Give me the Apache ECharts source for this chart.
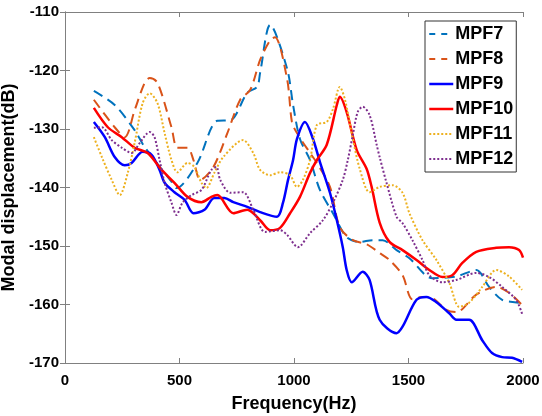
<!DOCTYPE html>
<html>
<head>
<meta charset="utf-8">
<script src="https://cdn.jsdelivr.net/npm/echarts@6/dist/echarts.min.js"></script>
<style>
  html, body { margin: 0; padding: 0; background: #fff; }
  #main { width: 542px; height: 416px; }
</style>
</head>
<body>
<div id="main"></div>
<script>
// values: [frequency Hz, displacement dB]
var xTicks = [0, 500, 1000, 1500, 2000];
var yTicks = [-170, -160, -150, -140, -130, -120, -110];
var names = ['MPF7', 'MPF8', 'MPF9', 'MPF10', 'MPF11', 'MPF12'];

var mpf7 = [[126,-123.5],[217,-125.9],[304,-130.2],[348,-133.1],[465,-139],[487,-140.1],[578,-135.8],[665,-128.6],[722,-128.5],[796,-123.8],[839,-122.8],[852,-120.4],[896,-112.2],[970,-119.7],[996,-125.9],[1026,-131.7],[1070,-135.3],[1113,-140.4],[1170,-144.4],[1230,-148.5],[1287,-149.3],[1343,-149],[1387,-149],[1448,-150.7],[1504,-152.1],[1604,-155.5],[1709,-155.2],[1796,-154.1],[1852,-157],[1909,-159.2],[1983,-159.7],[2000,-160]];
var mpf8 = [[126,-125],[217,-129.7],[261,-131.4],[304,-126.8],[348,-122.1],[370,-121.3],[404,-122.1],[465,-129.7],[491,-133.2],[535,-133.2],[561,-135.3],[591,-138.7],[648,-136.5],[709,-130.7],[765,-125],[809,-123.3],[852,-118.2],[896,-114.8],[917,-114.3],[970,-121.5],[991,-128.8],[1013,-130.7],[1070,-134.1],[1100,-135.8],[1157,-139.9],[1200,-146.8],[1257,-149],[1317,-149.7],[1374,-151.2],[1417,-152.4],[1474,-155],[1517,-159.1],[1561,-158.7],[1604,-158.9],[1665,-160.9],[1709,-161.3],[1796,-158.3],[1883,-157],[1939,-158],[1996,-160.1]];
var mpf9 = [[126,-128.8],[174,-131.4],[217,-134.8],[261,-136.2],[291,-135.8],[339,-133.9],[378,-134.4],[413,-137],[435,-139.2],[478,-140.8],[522,-142.1],[561,-144.4],[609,-143.8],[652,-141.8],[696,-141.8],[735,-142.5],[796,-143.3],[852,-144.2],[926,-145],[952,-142.6],[974,-138.7],[996,-135.3],[1013,-131.7],[1048,-128.8],[1083,-131.7],[1113,-135.6],[1157,-140.9],[1187,-145.6],[1213,-150.2],[1230,-154.1],[1252,-156.2],[1300,-154.4],[1330,-155.8],[1374,-162.6],[1448,-164.9],[1474,-163.8],[1535,-159.2],[1578,-158.7],[1622,-159.6],[1678,-161.5],[1709,-162.6],[1765,-162.6],[1822,-166.1],[1865,-168.3],[1909,-169],[1952,-169.1],[1996,-169.8]];
var mpf10 = [[126,-126.4],[187,-129.7],[248,-131.4],[304,-133.2],[361,-134.1],[422,-137],[478,-139.2],[535,-141.6],[596,-142.5],[639,-141.6],[665,-141.3],[735,-144.4],[796,-143.8],[852,-145.6],[896,-147.3],[939,-146.9],[983,-144.4],[1026,-141.6],[1070,-137.5],[1100,-135.3],[1143,-132.7],[1187,-125.9],[1200,-124.5],[1230,-127.1],[1274,-133.6],[1317,-136.8],[1339,-139.9],[1374,-146],[1417,-149.3],[1474,-150.7],[1535,-152.4],[1591,-154.1],[1648,-155.3],[1691,-155],[1735,-152.9],[1796,-151],[1883,-150.3],[1939,-150.2],[1983,-150.7],[2000,-152]];
var mpf11 = [[126,-131.4],[161,-134.8],[204,-138.7],[239,-141.3],[274,-137.5],[304,-132.4],[339,-125.6],[370,-123.9],[404,-125.6],[435,-130.7],[465,-135.3],[491,-137.4],[535,-135.8],[565,-136.5],[596,-139.2],[617,-140.1],[652,-137.5],[691,-134.8],[778,-131.9],[822,-134.1],[852,-137],[896,-137.9],[939,-137.4],[983,-137.9],[1013,-139.9],[1039,-138.7],[1070,-135.3],[1100,-129.3],[1143,-128.8],[1170,-126.6],[1200,-122.8],[1222,-124.9],[1257,-131.7],[1287,-136.8],[1330,-140.8],[1374,-139.9],[1430,-139.6],[1474,-140.9],[1504,-144.4],[1561,-149],[1622,-152.4],[1678,-156.3],[1722,-160.4],[1765,-159.7],[1822,-157],[1883,-154.1],[1939,-155.2],[1996,-157.5]];
var mpf12 = [[126,-129.8],[161,-129.7],[204,-131.9],[248,-133.2],[291,-134.1],[326,-132.4],[370,-130.5],[391,-131.4],[413,-135.3],[435,-139.2],[465,-142.6],[487,-144.7],[513,-142.6],[552,-141.3],[596,-140.4],[639,-137],[661,-136.5],[678,-138.7],[722,-140.9],[778,-140.8],[822,-143.8],[874,-147.6],[939,-147.3],[970,-148.1],[1017,-150.2],[1070,-147.8],[1126,-145.6],[1170,-142.6],[1213,-138.7],[1235,-135.3],[1257,-131],[1278,-127.1],[1300,-126.2],[1330,-127.6],[1361,-132.7],[1374,-134.8],[1404,-139.2],[1448,-145],[1474,-146.1],[1517,-149],[1561,-152.4],[1591,-155],[1648,-156.2],[1709,-155.8],[1796,-154.6],[1852,-155.3],[1909,-157],[1970,-159.2],[1996,-161.6]];

var seriesData = [mpf7, mpf8, mpf9, mpf10, mpf11, mpf12];
var colors = ['#0072BD', '#D95319', '#0000FF', '#FF0000', '#EDB120', '#7E2F8E'];
var dashes = [[10, 6], [10, 6], 'solid', 'solid', [2, 2], [2, 2]];
var legendDashes = [[6, 6], [6, 6], 'solid', 'solid', [2, 2], [2, 2]];
var widths = [2, 2, 2.5, 2.5, 2, 2];

var myChart = echarts.init(document.getElementById('main'), null, {renderer: 'canvas'});

var axisColor = '#808080';
var fontFam = 'Arial, Liberation Sans, sans-serif';
var labelFont = {color: '#000', fontWeight: 'bold', fontSize: 15, fontFamily: fontFam};

var series = names.map(function (n, i) {
    return {
        name: n,
        type: 'line',
        smooth: 0.3,
        symbol: 'none',
        data: seriesData[i],
        lineStyle: {color: colors[i], width: widths[i], type: dashes[i]},
        itemStyle: {color: colors[i]},
        z: 2 + i
    };
});

var legendData = names.map(function (n, i) {
    return {name: n, lineStyle: {type: legendDashes[i], width: widths[i], color: colors[i]}};
});

var option = {
    animation: false,
    grid: {left: 65, right: 19, top: 12, bottom: 53, show: false, outerBoundsMode: 'none', containLabel: false},
    legend: {
        orient: 'vertical',
        left: 425,
        top: 21,
        data: legendData,
        itemWidth: 24,
        itemHeight: 14,
        itemGap: 7,
        padding: [4, 3, 4, 3],
        backgroundColor: '#fff',
        borderColor: '#333',
        borderWidth: 1,
        itemStyle: {opacity: 0},
        textStyle: {color: '#000', fontWeight: 'bold', fontSize: 18, lineHeight: 18, fontFamily: fontFam, padding: [0, 0, 0, -3]}
    },
    xAxis: [{
        type: 'value', min: 0, max: 2000, interval: 500,
        name: 'Frequency(Hz)', nameLocation: 'middle', nameGap: 32,
        nameTextStyle: {color: '#000', fontWeight: 'bold', fontSize: 18, fontFamily: fontFam},
        axisLine: {show: true, lineStyle: {color: axisColor, width: 1}},
        axisTick: {show: true, inside: true, length: 5, lineStyle: {color: axisColor}},
        axisLabel: Object.assign({margin: 10, formatter: function (v) { return xTicks.indexOf(v) >= 0 ? v : ''; }}, labelFont),
        splitLine: {show: false}
    }, {
        type: 'value', min: 0, max: 2000, interval: 500, position: 'top',
        axisLine: {show: true, lineStyle: {color: axisColor, width: 1}},
        axisTick: {show: true, inside: true, length: 5, lineStyle: {color: axisColor}},
        axisLabel: {show: false},
        splitLine: {show: false}
    }],
    yAxis: [{
        type: 'value', min: -170, max: -110, interval: 10,
        name: 'Modal displacement(dB)', nameLocation: 'middle', nameGap: 40, nameRotate: 90,
        nameTextStyle: {color: '#000', fontWeight: 'bold', fontSize: 18, fontFamily: fontFam},
        axisLine: {show: true, lineStyle: {color: axisColor, width: 1}},
        axisTick: {show: true, inside: true, length: 5, lineStyle: {color: axisColor}},
        axisLabel: Object.assign({margin: 6, formatter: function (v) { return yTicks.indexOf(v) >= 0 ? v : ''; }}, labelFont),
        splitLine: {show: false}
    }, {
        type: 'value', min: -170, max: -110, interval: 10, position: 'right',
        axisLine: {show: true, lineStyle: {color: axisColor, width: 1}},
        axisTick: {show: true, inside: true, length: 5, lineStyle: {color: axisColor}},
        axisLabel: {show: false},
        splitLine: {show: false}
    }],
    series: series
};

myChart.setOption(option);
</script>
</body>
</html>
